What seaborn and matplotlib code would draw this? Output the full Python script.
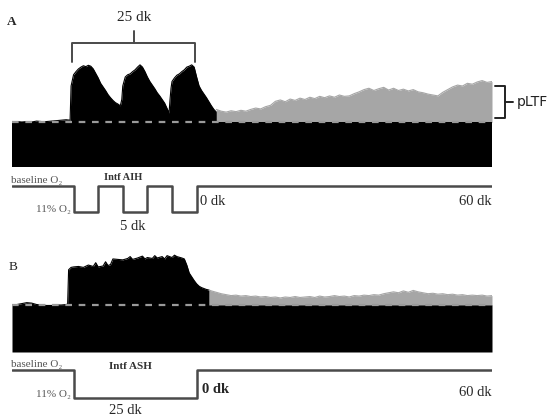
import numpy as np
import pandas as pd
import matplotlib.pyplot as plt
import seaborn as sns

sns.set_theme(style="white")
plt.rcParams['font.family'] = ['Liberation Serif', 'DejaVu Sans']

# --- panel A: phrenic activity (% of baseline), time in min (0 = end of hypoxia)
time_a = [-37.5, -36.5, -35.5, -34.5, -33.5, -32.5, -31.5, -30.5, -29.5, -28.5, -27.5, -26.5, -25.7,
          -25.5, -25.0, -24.5, -24.0, -23.5, -23.0, -22.5, -22.0, -21.5, -21.0, -20.5, -20.0, -19.5,
          -19.0, -18.5, -18.0, -17.5, -17.0, -16.5, -16.0, -15.5,
          -15.2, -15.0, -14.5, -14.0, -13.5, -13.0, -12.5, -12.0, -11.5, -11.0, -10.5, -10.0, -9.5,
          -9.0, -8.5, -8.0, -7.5, -7.0, -6.5, -6.0, -5.6,
          -5.4, -5.2, -5.0, -4.5, -4.0, -3.5, -3.0, -2.5, -2.0, -1.5, -1.0, -0.5, 0.0, 0.5, 1.0,
          1.5, 2.0, 2.5, 3.0, 3.5, 4.0]
act_a = [100, 101, 100, 101, 100, 102, 101, 101, 102, 103, 104, 105, 104,
         180, 205, 212, 218, 222, 225, 223, 226, 224, 218, 208, 198, 186,
         178, 170, 161, 154, 148, 143, 140, 136,
         150, 180, 200, 205, 207, 212, 216, 222, 227, 222, 212, 200, 190,
         182, 174, 165, 158, 150, 142, 130, 120,
         150, 175, 190, 198, 204, 207, 212, 216, 222, 224, 227, 222, 200, 180, 170,
         162, 154, 145, 136, 128, 122]
# after hypoxia (grey part above baseline)
time_a_post = [4, 5, 6, 7, 8, 9, 10, 11, 12, 13, 14, 15, 16, 17, 18, 19, 20, 21, 22, 23, 24, 25,
               26, 27, 28, 29, 30, 31, 32, 33, 34, 35, 36, 37, 38, 39, 40, 41, 42, 43, 44, 45, 46,
               47, 48, 49, 50, 51, 52, 53, 54, 55, 56, 57, 58, 59, 60]
act_a_post = [128, 124, 122, 125, 123, 126, 124, 128, 131, 129, 134, 137, 146, 149, 145, 151, 148,
              153, 150, 155, 152, 157, 154, 158, 155, 160, 157, 158, 163, 167, 172, 175, 170, 174,
              177, 171, 175, 170, 173, 169, 172, 167, 165, 162, 160, 158, 166, 172, 178, 182, 180,
              186, 184, 189, 192, 188, 190]

# --- panel B
time_b = [-37.5, -36.5, -35.5, -34.5, -33.5, -32.5, -31.5, -30.5, -29.5, -28.5, -27.5, -26.5, -26.2,
          -26.0, -25.5, -25.0, -24.0, -23.0, -22.0, -21.0, -20.5, -20.0, -19.0, -18.5, -18.0, -17.5,
          -17.0, -16.0, -15.0, -14.0, -13.5, -13.0, -12.0, -11.0, -10.5, -10.0, -9.0, -8.5, -8.0,
          -7.0, -6.5, -6.0, -5.0, -4.5, -4.0, -3.0, -2.5, -2.0, -1.5, -1.0, -0.5, 0.0, 0.5, 1.0,
          1.5, 2.0, 2.5]
act_b = [100, 101, 103, 105, 104, 101, 100, 99, 99, 100, 100, 101, 102,
         175, 180, 181, 182, 180, 185, 182, 190, 181, 183, 192, 184, 186,
         198, 197, 196, 199, 203, 197, 200, 204, 198, 201, 199, 205, 200,
         203, 198, 205, 201, 206, 203, 200, 198, 185, 168, 160, 152, 145, 140, 137,
         135, 133, 132]
time_b_post = [2.5, 3, 4, 5, 6, 7, 8, 9, 10, 11, 12, 13, 14, 15, 16, 17, 18, 19, 20, 21, 22, 23,
               24, 25, 26, 27, 28, 29, 30, 31, 32, 33, 34, 35, 36, 37, 38, 39, 40, 41, 42, 43, 44,
               45, 46, 47, 48, 49, 50, 51, 52, 53, 54, 55, 56, 57, 58, 59, 60]
act_b_post = [132, 130, 127, 124, 122, 120, 121, 119, 120, 118, 119, 117, 118, 116, 117, 115, 117,
              116, 118, 116, 117, 118, 116, 119, 117, 118, 120, 118, 119, 117, 120, 119, 121, 120,
              122, 121, 124, 126, 128, 126, 130, 127, 131, 128, 126, 124, 125, 123, 124, 122, 123,
              121, 122, 120, 121, 120, 121, 119, 120]

# --- inspired O2 protocols (%)
o2_time_a = [-37.5, -25, -20, -15, -10, -5, 0, 60]
o2_a = [21, 11, 21, 11, 21, 11, 21, 21]
o2_time_b = [-37.5, -25, 0, 60]
o2_b = [21, 11, 21, 21]

BLACK, GREY, LINE = '#000000', '#a6a6a6', '#4a4a4a'

W, H = 551, 419
fig = plt.figure(figsize=(W / 100, H / 100), dpi=100)


def px_axes(x0, y0, x1, y1):
    ax = fig.add_axes([x0 / W, 1 - y1 / H, (x1 - x0) / W, (y1 - y0) / H])
    ax.set_axis_off()
    ax.set_xlim(-37.5, 60)
    return ax


def draw_trace(ax, t, y, t_post, y_post):
    t, y = np.array(t), np.array(y)
    t_post, y_post = np.array(t_post), np.array(y_post)
    t_all = np.concatenate([t, t_post[1:]])
    y_all = np.concatenate([y, y_post[1:]])
    ax.fill_between(t_post, 99, y_post, color=GREY, lw=0)
    ax.fill_between(t_all, 0, np.minimum(y_all, 100), color=BLACK, lw=0)
    ax.fill_between(t, 99, y, color=BLACK, lw=0)
    sns.lineplot(x=t, y=y, ax=ax, color=BLACK, lw=0.8, sort=False)
    sns.lineplot(x=t_post, y=y_post, ax=ax, color=GREY, lw=0.8, sort=False)
    ax.plot([-37.5, 60], [100, 100], color='#9a9a9a', lw=1.6, dashes=(3, 3))


def draw_o2(ax, t, o2):
    df = pd.DataFrame({'t': t, 'o2': o2})
    sns.lineplot(data=df, x='t', y='o2', ax=ax, color=LINE, lw=1.8, drawstyle='steps-post')
    ax.set_xlabel('')
    ax.set_ylabel('')


# ---------------- panel A
axA = px_axes(12, 50, 492, 167)
axA.set_ylim(0, 260)
draw_trace(axA, time_a, act_a, time_a_post, act_a_post)
kw = dict(color=LINE, lw=1.4, clip_on=False)
axA.plot([-25.4, -25.4, -0.4, -0.4], [233, 276, 276, 233], **kw)
axA.plot([-12.7, -12.7], [276, 302], **kw)
axA.text(-12.7, 333, '25 dk', ha='center', va='center', fontsize=11)
axA.plot([60.6, 62.6, 62.6, 60.6], [180, 180, 109, 109], color='#222222', lw=1.4, clip_on=False)
axA.plot([62.6, 64.3], [144, 144], color='#222222', lw=1.4, clip_on=False)
axA.text(65.0, 144, 'pLTF', ha='left', va='center', fontsize=10,
         family=['DejaVu Sans'], color='#222222')
fig.text(12 / W, 1 - 22 / H, 'A', ha='center', va='center', fontsize=9.5, fontweight='bold')

oA = px_axes(12, 170, 492, 236)
oA.set_ylim(1.77, 27.15)
draw_o2(oA, o2_time_a, o2_a)
oA.text(-37.8, 21.4, 'baseline O₂', ha='left', va='bottom', fontsize=8, color='#555555')
oA.text(-25.6, 11.8, '11% O₂', ha='right', va='center', fontsize=8, color='#555555')
oA.text(-15.0, 24.3, 'Intf AIH', ha='center', va='center', fontsize=7.5,
        fontweight='bold', color='#333333')
oA.text(-13.0, 5.6, '5 dk', ha='center', va='center', fontsize=10.5)
oA.text(0.6, 15.2, '0 dk', ha='left', va='center', fontsize=10.5)
oA.text(60, 15.2, '60 dk', ha='right', va='center', fontsize=10.5)

# ---------------- panel B
axB = px_axes(12, 240, 492, 352)
axB.set_ylim(0, 238.3)
draw_trace(axB, time_b, act_b, time_b_post, act_b_post)
fig.text(13 / W, 1 - 267 / H, 'B', ha='center', va='center', fontsize=9.5)

oB = px_axes(12, 355, 492, 419)
oB.set_ylim(3.5, 26.4)
draw_o2(oB, o2_time_b, o2_b)
oB.text(-37.8, 21.3, 'baseline O₂', ha='left', va='bottom', fontsize=8, color='#555555')
oB.text(-25.6, 12.1, '11% O₂', ha='right', va='center', fontsize=8, color='#555555')
oB.text(-13.4, 22.4, 'Intf ASH', ha='center', va='center', fontsize=8,
        fontweight='bold', color='#333333')
oB.text(-14.4, 6.7, '25 dk', ha='center', va='center', fontsize=10.5)
oB.text(1.0, 13.9, '0 dk', ha='left', va='center', fontsize=10.5, fontweight='bold')
oB.text(60, 13.1, '60 dk', ha='right', va='center', fontsize=10.5)

fig.savefig('out.png', dpi=100)
